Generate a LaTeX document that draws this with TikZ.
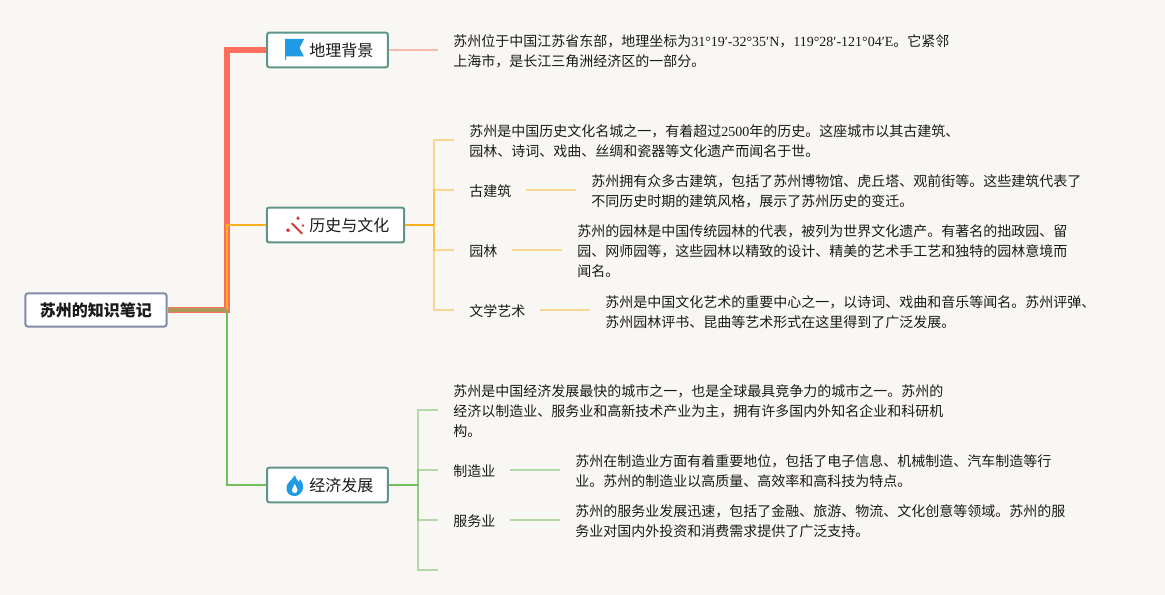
\documentclass[tikz,border=0pt]{standalone}
\usepackage{fontspec}
\setmainfont{Noto Sans CJK SC}
\newfontfamily\latfont{Liberation Serif}
\newcommand{\lat}[1]{{\latfont #1}}
\definecolor{bgc}{HTML}{F9F7F4}
\definecolor{teal}{HTML}{5F9488}
\definecolor{rootb}{HTML}{7F8CA8}
\definecolor{redl}{HTML}{FC6F5C}
\definecolor{orl}{HTML}{F9B21E}
\definecolor{grl}{HTML}{6FBF5A}
\definecolor{brl}{HTML}{AC9A5B}
\definecolor{blueic}{HTML}{1E9BE2}
\definecolor{redic}{HTML}{D23A30}
\definecolor{txt}{HTML}{1A1A1A}
\tikzset{
  x=0.75pt,y=-0.75pt,
  rootbox/.style={draw=rootb,line width=1.5pt,rounded corners=2pt,fill=white,text=txt,inner sep=0pt,minimum width=106pt,minimum height=25pt,font=\fontsize{12}{15}\selectfont\bfseries},
  topicbox/.style={draw=teal,line width=1.5pt,rounded corners=1.5pt,fill=white,text=txt,inner sep=0pt,minimum height=26pt,font=\fontsize{12}{15}\selectfont},
  body/.style={anchor=west,inner sep=0pt,align=left,text=txt,font=\fontsize{10.5}{15}\selectfont},
  sub/.style={anchor=west,inner sep=0pt,text=txt,font=\fontsize{10.5}{15}\selectfont},
  orbr/.style={draw=orl,line width=1.5pt,opacity=.48},
  grbr/.style={draw=grl,line width=1.5pt,opacity=.5},
  orleaf/.style={draw=orl,line width=1.5pt,opacity=.45},
  grleaf/.style={draw=grl,line width=1.5pt,opacity=.5},
}
\begin{document}
\begin{tikzpicture}
\useasboundingbox (0,0) rectangle (1165,595);
\fill[bgc] (0,0) rectangle (1165,595);
% boxes
\node[rootbox] (root) at (96,310) {苏州的知识笔记};
\node[topicbox,minimum width=90.5pt] (geo) at (327.5,50) {};
\node[topicbox,minimum width=103pt] (his) at (335.5,225) {};
\node[topicbox,minimum width=90.5pt] (eco) at (327.5,485) {};
\node[anchor=west,inner sep=0pt,text=txt,font=\fontsize{12}{15}\selectfont] (geot) at (309,50) {地理背景};
\node[anchor=west,inner sep=0pt,text=txt,font=\fontsize{12}{15}\selectfont] (hist) at (309,225) {历史与文化};
\node[anchor=west,inner sep=0pt,text=txt,font=\fontsize{12}{15}\selectfont] (ecot) at (309,485) {经济发展};
% trunk
\coordinate (tr) at (227,310);
\coordinate (trb) at (229.5,310);
\draw[redl,line width=4pt] (tr) |- (geo.west);
\draw[redl,line width=4.8pt] (root.east) -- (trb);
\draw[grl,line width=1.6pt] (tr) |- (eco.west);
\draw[orl,line width=1.8pt] (tr) |- (his.west);
\draw[brl,line width=3pt] (root.east) -- (tr);
% geography
\coordinate (geoend) at (438,50);
\draw[redl,line width=1.5pt,opacity=.45] (geo.east) -- (geoend);
\node[body] (geotxt) at (453,51.5) {苏州位于中国江苏省东部，地理坐标为\lat{31°19′-32°35′N}，\lat{119°28′-121°04′E}。它紧邻\\上海市，是长江三角洲经济区的一部分。};
% history
\coordinate (hj) at (434,225);
\coordinate (h1) at (454,140);
\coordinate (h2) at (454,190);
\coordinate (h3) at (454,250);
\coordinate (h4) at (454,310);
\draw[orl,line width=1.5pt] (his.east) -- (hj);
\draw[orbr] (hj) |- (h1);
\draw[orbr] (hj) |- (h2);
\draw[orbr] (hj) |- (h3);
\draw[orbr] (hj) |- (h4);
\node[body] (hisintro) at (469,141.5) {苏州是中国历史文化名城之一，有着超过\lat{2500}年的历史。这座城市以其古建筑、\\园林、诗词、戏曲、丝绸和瓷器等文化遗产而闻名于世。};
\node[sub] (gu) at (469,191) {古建筑};
\node[body] (gutxt) at (591,191.5) {苏州拥有众多古建筑，包括了苏州博物馆、虎丘塔、观前街等。这些建筑代表了\\不同历史时期的建筑风格，展示了苏州历史的变迁。};
\coordinate (gua) at (526,190);
\coordinate (gub) at (576,190);
\draw[orleaf] (gua) -- (gub);
\node[sub] (yuan) at (469,251) {园林};
\node[body] (yuantxt) at (577,251.5) {苏州的园林是中国传统园林的代表，被列为世界文化遗产。有著名的拙政园、留\\园、网师园等，这些园林以精致的设计、精美的艺术手工艺和独特的园林意境而\\闻名。};
\coordinate (yua) at (512,250);
\coordinate (yub) at (562,250);
\draw[orleaf] (yua) -- (yub);
\node[sub] (wen) at (469,311) {文学艺术};
\node[body] (wentxt) at (605,312.5) {苏州是中国文化艺术的重要中心之一，以诗词、戏曲和音乐等闻名。苏州评弹、\\苏州园林评书、昆曲等艺术形式在这里得到了广泛发展。};
\coordinate (wea) at (540,310);
\coordinate (web) at (590,310);
\draw[orleaf] (wea) -- (web);
% economy
\coordinate (ej) at (418,485);
\coordinate (e1) at (438,410);
\coordinate (e2) at (438,470);
\coordinate (e3) at (438,520);
\coordinate (e4) at (438,570);
\draw[grl,line width=1.5pt] (eco.east) -- (ej);
\draw[grbr] (ej) |- (e1);
\draw[grbr] (ej) |- (e2);
\draw[grbr] (ej) |- (e3);
\draw[grbr] (ej) |- (e4);
\node[body] (ecointro) at (453,411.5) {苏州是中国经济发展最快的城市之一，也是全球最具竞争力的城市之一。苏州的\\经济以制造业、服务业和高新技术产业为主，拥有许多国内外知名企业和科研机\\构。};
\node[sub] (zhi) at (453,471) {制造业};
\node[body] (zhitxt) at (575,471.5) {苏州在制造业方面有着重要地位，包括了电子信息、机械制造、汽车制造等行\\业。苏州的制造业以高质量、高效率和高科技为特点。};
\coordinate (zha) at (510,470);
\coordinate (zhb) at (560,470);
\draw[grleaf] (zha) -- (zhb);
\node[sub] (fu) at (453,521) {服务业};
\node[body] (futxt) at (575,521.5) {苏州的服务业发展迅速，包括了金融、旅游、物流、文化创意等领域。苏州的服\\务业对国内外投资和消费需求提供了广泛支持。};
\coordinate (fua) at (510,520);
\coordinate (fub) at (560,520);
\draw[grleaf] (fua) -- (fub);
% icons
\fill[blueic] (285,39) -- (304,39) -- (299.5,48) -- (304,56.5) -- (286,56.5) -- (286,60) -- (285,60) -- cycle;
\draw[redic,line width=1.4pt,line cap=round] (292,223.5) -- (302,233.5);
\fill[redic] (288,228) -- (288.9,229.3) -- (290.4,230.3) -- (288.9,231.3) -- (288,232.6) -- (287.1,231.3) -- (285.6,230.3) -- (287.1,229.3) -- cycle;
\fill[redic] (298,216) -- (298.8,217.5) -- (300,218.3) -- (298.8,219) -- (298,220.5) -- (297.2,219) -- (296,218.3) -- (297.2,217.5) -- cycle;
\fill[redic] (303,223.5) -- (303.6,225) -- (304.4,225.5) -- (303.6,226) -- (303,227.5) -- (302.4,226) -- (301.6,225.5) -- (302.4,225) -- cycle;
\fill[blueic] (295,475) .. controls (296,480) and (298,480) .. (299,482) .. controls (300,481) and (300,480) .. (300,479) .. controls (303,483) and (304,487) .. (302.5,490) .. controls (301,494) and (298,496) .. (294.5,496) .. controls (290,496) and (286,493) .. (286.5,488) .. controls (286.5,483) and (290,482) .. (292,479) .. controls (293,478) and (294,476) .. (295,475) -- cycle;
\fill[white] (294.8,484) .. controls (295,486) and (297.5,487.5) .. (297.5,490) .. controls (297.5,492) and (296,493) .. (294.8,493) .. controls (293,493) and (292,492) .. (292,490) .. controls (292,487.5) and (294.3,486) .. (294.8,484) -- cycle;
\end{tikzpicture}
\end{document}
